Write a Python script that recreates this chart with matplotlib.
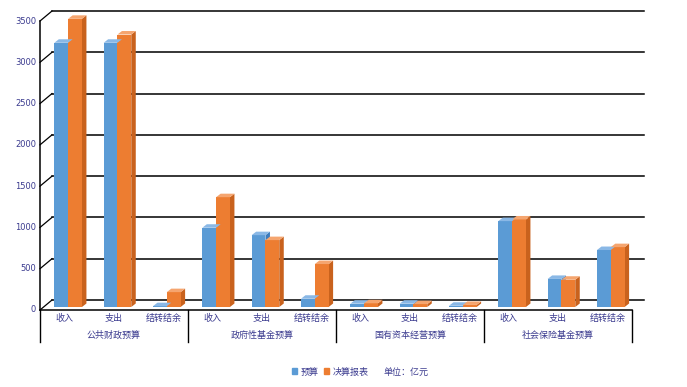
import matplotlib
matplotlib.use("Agg")
import matplotlib.pyplot as plt
from matplotlib.patches import Polygon, Patch
import numpy as np

plt.rcParams['font.family'] = ['Noto Sans CJK SC', 'DejaVu Sans']

groups = ["公共财政预算", "政府性基金预算", "国有资本经营预算", "社会保险基金预算"]
items = ["收入", "支出", "结转结余"]
budget = [3200, 3200, 10, 960, 870, 100, 40, 40, 15, 1040, 340, 690]
final = [3490, 3300, 180, 1330, 810, 520, 45, 35, 25, 1060, 330, 725]
yticks = [0, 500, 1000, 1500, 2000, 2500, 3000, 3500]
series_names = ["预算", "决算报表"]
unit_text = "单位：亿元"

W, H = 687, 387
fig = plt.figure(figsize=(W / 100, H / 100), dpi=100)
x0, x1, ytop, ybot = 40, 632, 21, 310
ax = fig.add_axes([x0 / W, (H - ybot) / H, (x1 - x0) / W, (ybot - ytop) / H])
ax.set_xlim(-0.5, 11.5)
ax.set_ylim(0, 3500)
ax.axis('off')

pxu_x = 12.0 / (x1 - x0)          # data units per pixel (x)
pxu_y = 3500.0 / (ybot - ytop)    # data units per pixel (y)
navy = '#3b3b8f'

# back wall gridlines and diagonal ticks
bdx, bdy = 12 * pxu_x, 10 * pxu_y
for t in yticks:
    ax.plot([-0.5 + bdx, 11.5 + bdx], [t + bdy, t + bdy], color='black', lw=1.1, clip_on=False, zorder=1)
    ax.plot([-0.5, -0.5 + bdx], [t, t + bdy], color='black', lw=0.9, clip_on=False, zorder=1)
    ax.text(-0.5 - 4 * pxu_x, t, str(t), ha='right', va='center', fontsize=6,
            color=navy, family='DejaVu Sans')
# front axis line and floor edge
ax.plot([-0.5, -0.5], [0, 3500], color='black', lw=1.1, clip_on=False, zorder=1)
ax.plot([-0.5, 11.5], [0, 0], color='black', lw=1.1, clip_on=False, zorder=1)

x = np.arange(len(budget))
wbar = 0.28
base = 3 * pxu_y
sdx, sdy = 4.5 * pxu_x, 3.5 * pxu_y

styles = [
    dict(front='#5b9bd5', top='#8ab8e6', side='#3d7cbd'),
    dict(front='#ed7d31', top='#f5a56f', side='#c9621d'),
]
offsets = [-0.07, 0.21]
for vals, st, off in zip([budget, final], styles, offsets):
    bars = ax.bar(x + off, vals, width=wbar, bottom=base, color=st['front'],
                  edgecolor='none', zorder=3, clip_on=False)
    for b in bars:
        l = b.get_x(); r = l + b.get_width()
        bt = b.get_y(); tp = bt + b.get_height()
        ax.add_patch(Polygon([(l, tp), (r, tp), (r + sdx, tp + sdy), (l + sdx, tp + sdy)],
                             closed=True, facecolor=st['top'], edgecolor='none', zorder=4, clip_on=False))
        ax.add_patch(Polygon([(r, bt), (r + sdx, bt + sdy), (r + sdx, tp + sdy), (r, tp)],
                             closed=True, facecolor=st['side'], edgecolor='none', zorder=2, clip_on=False))

# category axis box
fig_px = lambda px, py: (px / W, (H - py) / H)
for i in range(len(groups) + 1):
    xp = x0 + i * (x1 - x0) / len(groups)
    fig.add_artist(plt.Line2D([xp / W, xp / W], [(H - 310) / H, (H - 342) / H], color='black', lw=1.0))
for i in range(len(budget)):
    xp = x0 + (i + 0.5) * (x1 - x0) / len(budget)
    fig.text(xp / W, (H - 318) / H, items[i % 3], ha='center', va='center', fontsize=6.5, color=navy)
for g, name in enumerate(groups):
    xp = x0 + (g + 0.5) * (x1 - x0) / len(groups)
    fig.text(xp / W, (H - 335) / H, name, ha='center', va='center', fontsize=6.5, color=navy)

handles = [Patch(color=styles[0]['front']), Patch(color=styles[1]['front']), Patch(visible=False)]
leg = fig.legend(handles, series_names + [unit_text], loc='center', bbox_to_anchor=(360 / W, (H - 372) / H),
                 ncol=3, frameon=False, fontsize=6.5, handlelength=0.6, handleheight=0.6,
                 handletextpad=0.4, columnspacing=0.6, labelcolor=navy)

fig.savefig('out.png', dpi=100, facecolor='white')
